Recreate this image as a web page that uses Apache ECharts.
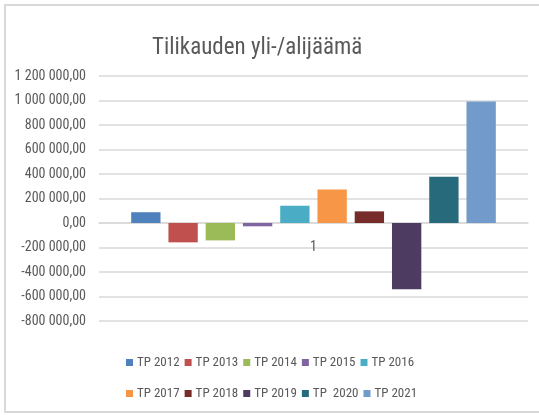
<!DOCTYPE html>
<html>
<head>
<meta charset="utf-8">
<script src="https://cdn.jsdelivr.net/npm/echarts@6/dist/echarts.min.js"></script>
<style>
  html, body { margin: 0; padding: 0; background: #ffffff; }
  #chart { width: 539px; height: 415px; }
</style>
</head>
<body>
<div id="chart"></div>
<script>
// Single category on the x axis, one bar series per fiscal year
const categories = ['1'];
const seriesNames = ['TP 2012', 'TP 2013', 'TP 2014', 'TP 2015', 'TP 2016',
                     'TP 2017', 'TP 2018', 'TP 2019', 'TP  2020', 'TP 2021'];
const surplusValues = [88000, -158000, -142000, -27000, 141000,
                       274000, 95000, -541000, 378000, 991000];
const yTicks = { min: -800000, max: 1200000, step: 200000 };

const palette = ['#4F81BD', '#C0504D', '#9BBB59', '#8064A2', '#4BACC6',
                 '#F79646', '#772C2A', '#4D3B62', '#276A7C', '#729ACA'];

const labelFont = '"Roboto Condensed", "Liberation Sans", sans-serif';
const textGray = '#595959';

// "1 200 000,00" style: space thousands separator, comma decimals
function fmt(v) {
  const neg = v < 0;
  const s = Math.abs(Math.round(v)).toString().replace(/\B(?=(\d{3})+(?!\d))/g, ' ');
  return (neg ? '-' : '') + s + ',00';
}

const chart = echarts.init(document.getElementById('chart'), null, { renderer: 'canvas' });

const legendCommon = {
  icon: 'rect',
  itemWidth: 7,
  itemHeight: 7,
  itemGap: 5,
  left: 121,
  orient: 'horizontal',
  textStyle: { color: textGray, fontSize: 13, fontFamily: labelFont, width: 45, padding: [0, 0, 0, -1] },
  selectedMode: false
};

chart.setOption({
  animation: false,
  color: palette,
  title: {
    text: 'Tilikauden yli-/alijäämä',
    left: 147,
    top: 32,
    textStyle: { color: textGray, fontSize: 23, fontWeight: 'normal', fontFamily: labelFont }
  },
  graphic: [{
    type: 'rect',
    shape: { x: 5, y: 5, width: 545, height: 407 },
    style: { fill: 'none', stroke: '#d9d9d9', lineWidth: 2 },
    silent: true
  }],
  legend: [
    Object.assign({}, legendCommon, { top: 351, data: seriesNames.slice(0, 5) }),
    Object.assign({}, legendCommon, { top: 382, data: seriesNames.slice(5) })
  ],
  grid: { left: 99, right: 11, top: 76, bottom: 94, containLabel: false },
  xAxis: {
    type: 'category',
    data: categories,
    axisLine: { show: true, onZero: true, lineStyle: { color: '#d9d9d9', width: 1.5 } },
    axisTick: { show: false },
    axisLabel: { color: textGray, fontSize: 14, fontFamily: labelFont, margin: 17 }
  },
  yAxis: {
    type: 'value',
    min: yTicks.min,
    max: yTicks.max,
    interval: yTicks.step,
    axisLine: { show: false },
    axisTick: { show: false },
    axisLabel: { color: textGray, fontSize: 14, fontFamily: labelFont, margin: 13, formatter: fmt },
    splitLine: { lineStyle: { color: '#d9d9d9', width: 1.5 } }
  },
  series: seriesNames.map((name, i) => ({
    name: name,
    type: 'bar',
    data: [surplusValues[i]],
    barGap: '27%',
    barCategoryGap: '15%',
    itemStyle: { color: palette[i] }
  }))
});

// Put the category axis (and its label) on the zero line of the value axis
const zeroY = chart.convertToPixel({ yAxisIndex: 0 }, 0);
const bottomY = chart.convertToPixel({ yAxisIndex: 0 }, yTicks.min);
chart.setOption({ xAxis: { offset: zeroY - bottomY } });
</script>
</body>
</html>
